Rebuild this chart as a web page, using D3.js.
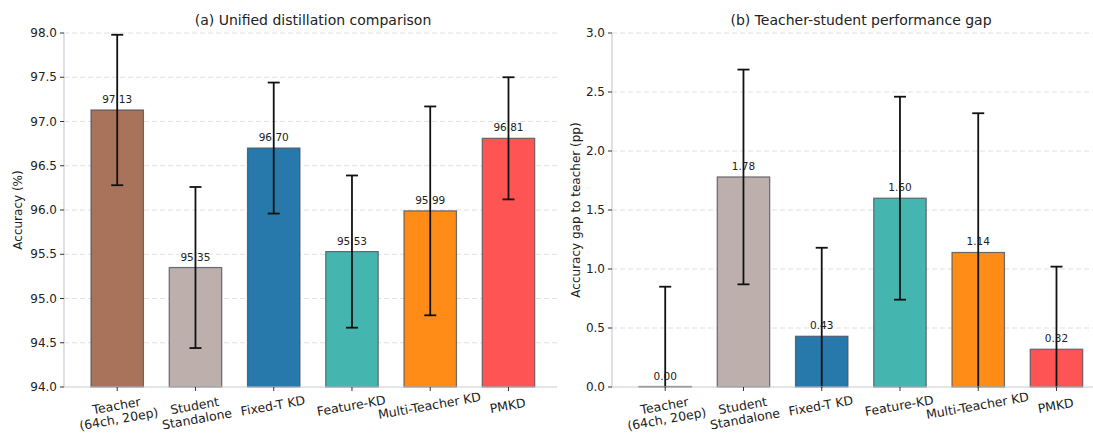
<!DOCTYPE html>
<html>
<head>
<meta charset="utf-8">
<script src="https://cdn.jsdelivr.net/npm/d3@7"></script>
<style>
  body { margin: 0; background: #fff; }
  svg text { font-family: "DejaVu Sans", sans-serif; fill: #222; }
</style>
</head>
<body>
<svg id="chart" width="1093" height="433"></svg>
<script>
// data
const methods = ["Teacher\n(64ch, 20ep)", "Student\nStandalone", "Fixed-T KD", "Feature-KD", "Multi-Teacher KD", "PMKD"];
const colors = ["#a8735a", "#bdb0ac", "#2778ab", "#45b5b0", "#fe8c16", "#fe5454"];

const accuracy = [97.13, 95.35, 96.70, 95.53, 95.99, 96.81];
const accuracyErr = [0.85, 0.91, 0.74, 0.86, 1.18, 0.69];
const accTicks = [94.0, 94.5, 95.0, 95.5, 96.0, 96.5, 97.0, 97.5, 98.0];

const gap = [0.00, 1.78, 0.43, 1.60, 1.14, 0.32];
const gapErr = [0.85, 0.91, 0.75, 0.86, 1.18, 0.70];
const gapTicks = [0.0, 0.5, 1.0, 1.5, 2.0, 2.5, 3.0];

const svg = d3.select("#chart");
const plotTop = 33, plotBottom = 387;

function drawPanel(opts) {
  let g = svg.append("g");

  let x = d3.scaleLinear().domain([-0.68, 5.62]).range([opts.left, opts.left + 493]);
  let y = d3.scaleLinear().domain(opts.domain).range([plotBottom, plotTop]);
  let bw = x(0.67) - x(0);

  // clip so error bars below the axis don't show
  let clipId = "clip" + opts.id;
  svg.append("clipPath").attr("id", clipId)
    .append("rect")
    .attr("x", opts.left).attr("y", 0)
    .attr("width", 493).attr("height", plotBottom + 1);

  // grid
  g.selectAll("line.grid")
    .data(opts.ticks.slice(1))
    .enter()
    .append("line")
    .attr("x1", opts.left).attr("x2", opts.left + 493)
    .attr("y1", (d) => y(d)).attr("y2", (d) => y(d))
    .attr("stroke", "#e0e0e0")
    .attr("stroke-width", 1)
    .attr("stroke-dasharray", "5,3");

  let plot = g.append("g").attr("clip-path", "url(#" + clipId + ")");

  plot.selectAll("rect.bar")
    .data(opts.values)
    .enter()
    .append("rect")
    .attr("x", (d, i) => x(i) - bw / 2)
    .attr("width", bw)
    .attr("y", (d) => Math.min(y(d), plotBottom - 0.5))
    .attr("height", (d) => Math.max(0.5, plotBottom - y(d)))
    .attr("fill", (d, i) => colors[i])
    .attr("stroke", "#4a4f5a")
    .attr("stroke-opacity", 0.8)
    .attr("stroke-width", 1.2);

  // error bars
  let err = plot.selectAll("g.err")
    .data(opts.values)
    .enter()
    .append("g");

  err.append("line")
    .attr("x1", (d, i) => x(i)).attr("x2", (d, i) => x(i))
    .attr("y1", (d, i) => y(d + opts.errs[i]))
    .attr("y2", (d, i) => y(d - opts.errs[i]))
    .attr("stroke", "#111").attr("stroke-width", 1.8);

  [1, -1].forEach((s) => {
    err.append("line")
      .attr("x1", (d, i) => x(i) - 6).attr("x2", (d, i) => x(i) + 6)
      .attr("y1", (d, i) => y(d + s * opts.errs[i]))
      .attr("y2", (d, i) => y(d + s * opts.errs[i]))
      .attr("stroke", "#111").attr("stroke-width", 1.8);
  });

  // value labels
  g.selectAll("text.val")
    .data(opts.values)
    .enter()
    .append("text")
    .attr("x", (d, i) => x(i))
    .attr("y", (d) => y(d) - 7)
    .attr("text-anchor", "middle")
    .style("font-size", "10.5px")
    .text((d) => d.toFixed(2));

  // axes lines
  g.append("line")
    .attr("x1", opts.left).attr("x2", opts.left)
    .attr("y1", plotTop).attr("y2", plotBottom)
    .attr("stroke", "#c8cbd8").attr("stroke-width", 1.2);
  g.append("line")
    .attr("x1", opts.left).attr("x2", opts.left + 493)
    .attr("y1", plotBottom).attr("y2", plotBottom)
    .attr("stroke", "#c8cbd8").attr("stroke-width", 1.2);

  // y ticks
  let yt = g.selectAll("g.yt")
    .data(opts.ticks)
    .enter()
    .append("g")
    .attr("transform", (d) => "translate(" + opts.left + "," + y(d) + ")");
  yt.append("line").attr("x1", -4).attr("x2", 0).attr("stroke", "#333");
  yt.append("text")
    .attr("x", -7).attr("dy", "0.35em")
    .attr("text-anchor", "end")
    .style("font-size", "12px")
    .text((d) => d.toFixed(1));

  // x ticks
  let xt = g.selectAll("g.xt")
    .data(methods)
    .enter()
    .append("g")
    .attr("transform", (d, i) => "translate(" + x(i) + "," + plotBottom + ")");
  xt.append("line").attr("y1", 0).attr("y2", 4).attr("stroke", "#333");
  xt.append("text")
    .attr("transform", "translate(0,23) rotate(-10)")
    .attr("text-anchor", "middle")
    .style("font-size", "12.5px")
    .each(function (d) {
      let lines = d.split("\n");
      let t = d3.select(this);
      lines.forEach((l, k) => {
        t.append("tspan").attr("x", 0).attr("dy", k === 0 ? 0 : "1.08em").text(l);
      });
    });

  // title & y label
  g.append("text")
    .attr("x", opts.left + 249).attr("y", 25)
    .attr("text-anchor", "middle")
    .style("font-size", "14px")
    .text(opts.title);

  g.append("text")
    .attr("transform", "translate(" + opts.ylabelX + "," + (plotTop + plotBottom) / 2 + ") rotate(-90)")
    .attr("text-anchor", "middle")
    .style("font-size", "12px")
    .text(opts.ylabel);
}

drawPanel({
  id: "a", left: 64, domain: [94, 98], ticks: accTicks,
  values: accuracy, errs: accuracyErr,
  title: "(a) Unified distillation comparison",
  ylabel: "Accuracy (%)", ylabelX: 22
});

drawPanel({
  id: "b", left: 612, domain: [0, 3], ticks: gapTicks,
  values: gap, errs: gapErr,
  title: "(b) Teacher-student performance gap",
  ylabel: "Accuracy gap to teacher (pp)", ylabelX: 580
});
</script>
</body>
</html>
